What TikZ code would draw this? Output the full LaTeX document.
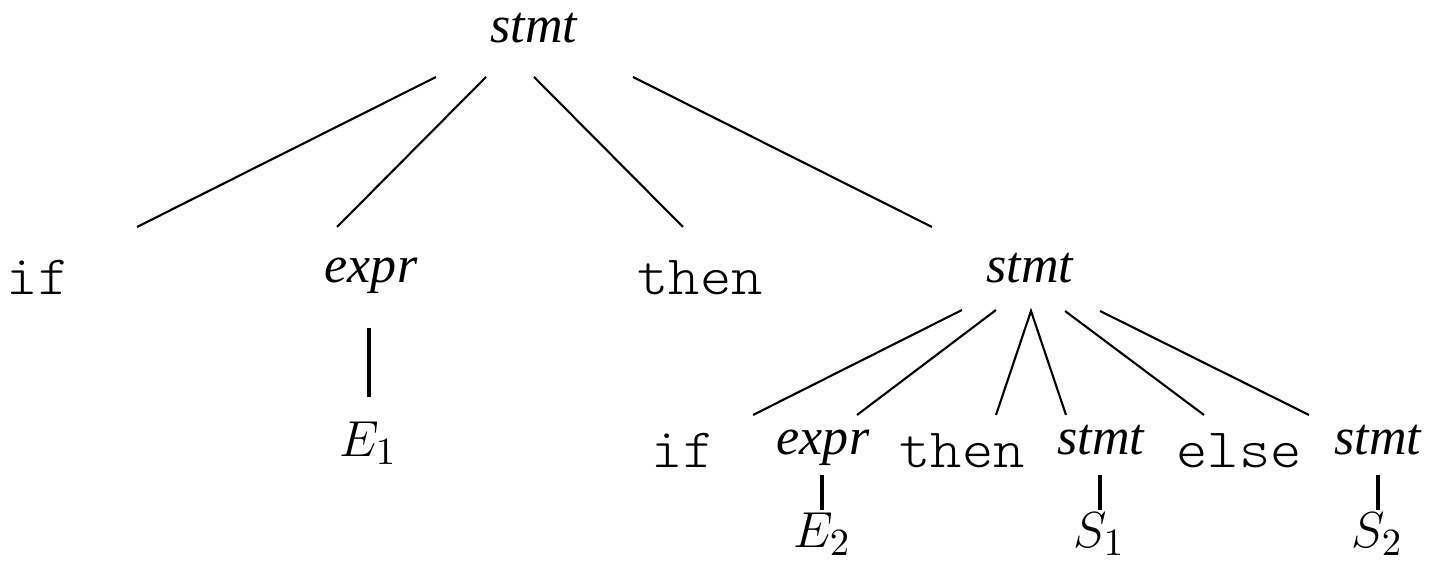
\documentclass[tikz,border=0pt]{standalone}
\usepackage[no-math]{fontspec}
\setmainfont{Liberation Serif}
\setmonofont[FakeStretch=1.07]{lmmonolt10-regular.otf}
\usetikzlibrary{positioning}

\begin{document}
\begin{tikzpicture}[
  x=0.01cm,y=-0.01cm,
  every node/.style={inner sep=0pt,anchor=base,font=\fontsize{15.2}{17}\selectfont},
  nt/.style={font=\fontsize{14.8}{17}\selectfont\itshape},
  tm/.style={font=\fontsize{15.8}{17}\selectfont\ttfamily},
  link/.style={line width=0.6pt},
  stem/.style={line width=0.9pt}
]
  \useasboundingbox (0,0) rectangle (1442,562);

  % upper tree
  \node[nt] (root) at (534,43) {stmt};
  \node[tm] (ifA) at (38,295) {if};
  \node[nt] (exprA) at (371,283) {expr};
  \node[tm] (thenA) at (700,295) {then};
  \node[nt] (stmtA) at (1030,283) {stmt};
  \node (eA) at (368,457) {$E_1$};

  % inner if-then-else
  \node[tm] (ifB) at (683,468) {if};
  \node[nt] (exprB) at (823,455) {expr};
  \node[tm] (thenB) at (962,468) {then};
  \node[nt] (stmtB) at (1101,455) {stmt};
  \node[tm] (elseB) at (1239,468) {else};
  \node[nt] (stmtC) at (1378,455) {stmt};
  \node (eB) at (822,548) {$E_2$};
  \node (sA) at (1099,548) {$S_1$};
  \node (sB) at (1377,548) {$S_2$};

  \draw[link] ([shift={(-98,34)}]root.base) -- ([shift={(99,-68)}]ifA.base);
  \draw[link] ([shift={(-48,34)}]root.base) -- ([shift={(-34,-56)}]exprA.base);
  \draw[link] ([shift={(0,34)}]root.base) -- ([shift={(-17,-68)}]thenA.base);
  \draw[link] ([shift={(99,34)}]root.base) -- ([shift={(-98,-56)}]stmtA.base);
  \draw[stem] ([shift={(-2,45)}]exprA.base) -- ([shift={(1,-60)}]eA.base);

  \draw[link] ([shift={(-68,27)}]stmtA.base) -- ([shift={(70,-53)}]ifB.base);
  \draw[link] ([shift={(-34,27)}]stmtA.base) -- ([shift={(34,-40)}]exprB.base);
  \draw[link] ([shift={(34,-53)}]thenB.base) -- ([shift={(1,28)}]stmtA.base)
    -- ([shift={(-35,-40)}]stmtB.base);
  \draw[link] ([shift={(35,28)}]stmtA.base) -- ([shift={(-35,-53)}]elseB.base);
  \draw[link] ([shift={(70,28)}]stmtA.base) -- ([shift={(-69,-40)}]stmtC.base);

  \draw[stem] ([shift={(-1,20)}]exprB.base) -- ([shift={(0,-38)}]eB.base);
  \draw[stem] ([shift={(-1,20)}]stmtB.base) -- ([shift={(1,-38)}]sA.base);
  \draw[stem] ([shift={(0,20)}]stmtC.base) -- ([shift={(1,-38)}]sB.base);
\end{tikzpicture}
\end{document}
